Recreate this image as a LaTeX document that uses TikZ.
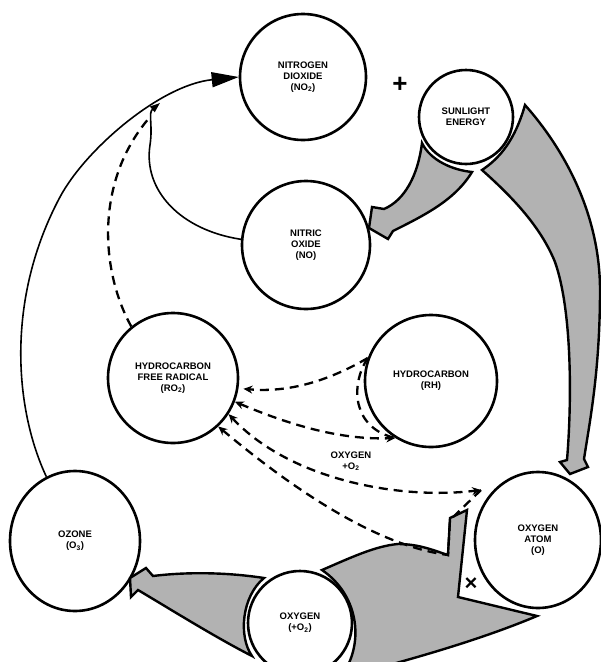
\documentclass[tikz,border=0pt]{standalone}
\usepackage{fontspec}
\setmainfont{Liberation Sans}
\usetikzlibrary{arrows.meta,shapes.geometric}
\newcommand{\labfont}{\fontsize{9.5}{11}\selectfont\bfseries}

\begin{document}
\begin{tikzpicture}[
  x=1pt, y=-1pt,
  species/.style={circle,draw,line width=2.6pt,align=center,font=\labfont,inner sep=0pt},
  ovalspecies/.style={species,ellipse},
  greyarrow/.style={draw,line width=2.4pt,fill=black!30},
  dashline/.style={line width=2.3pt,dash pattern=on 9pt off 6pt},
  route/.style={dashline,-{Stealth[length=9pt,width=8pt]}},
  thinarc/.style={line width=1.6pt}
]
  \useasboundingbox (0,0) rectangle (601,662);
  \clip (0,0) rectangle (601,662);

  \node[species,minimum size=126pt] (no2)   at (303,77)  {NITROGEN\\DIOXIDE\\(NO\textsubscript{2})};
  \node[species,minimum size=94pt]  (sun)   at (466,117) {SUNLIGHT\\ENERGY};
  \node[species,minimum size=128pt] (no)    at (306,245) {NITRIC\\OXIDE\\(NO)};
  \node[species,minimum size=130pt] (ro2)   at (173,378) {HYDROCARBON\\FREE RADICAL\\(RO\textsubscript{2})};
  \node[species,minimum size=132pt] (rh)    at (431,381) {HYDROCARBON\\(RH)};
  \node[ovalspecies,minimum width=126pt,minimum height=136pt] (oatom) at (538,540) {OXYGEN\\ATOM\\(O)};
  \node[ovalspecies,minimum width=130pt,minimum height=140pt] (ozone) at (75,541)  {OZONE\\(O\textsubscript{3})};
  \node[species,minimum size=104pt] (otwo)  at (300,623) {OXYGEN\\(+O\textsubscript{2})};

  \node[font=\fontsize{26}{26}\selectfont\bfseries] (plus) at (400,85) {+};
  \node[font=\fontsize{22}{22}\selectfont\bfseries] (cross) at (471,584) {×};
  \node[align=center,font=\labfont] (o2label) at (351,461) {OXYGEN\\+O\textsubscript{2}};

  \coordinate (join) at (160,103);
  \coordinate (dashend) at (150,117);
  \coordinate (ojoin) at (481,490);

  % solid cycle back to nitrogen dioxide
  \draw[thinarc,-{Triangle[length=27pt,width=15pt]}] (ozone.114) .. controls (15,410) and (5,300) .. (60,197)
    .. controls (85,150) and (160,85) .. (no2.180);
  \draw[thinarc,-{Triangle[length=10pt,width=7pt]}] (no.175) .. controls (180,230) and (143,190) .. (150,145)
    .. controls (153,125) and (148,113) .. (join);

  % sunlight arrows
  \draw[greyarrow] (422,143) .. controls (418,175) and (405,200) .. (384,209) -- (372,207) -- (369,228)
    -- (388,239) -- (393,231) .. controls (425,215) and (455,200) .. (472,172)
    .. controls (452,170) and (430,160) .. (422,143) -- cycle;
  \draw[greyarrow] (525,105) .. controls (565,150) and (600,215) .. (600,290)
    .. controls (600,370) and (590,420) .. (584,459) -- (588,467) -- (570,474) -- (560,462) -- (567,460)
    .. controls (572,400) and (572,310) .. (555,262) .. controls (540,225) and (510,195) .. (482,170)
    .. controls (500,158) and (515,140) .. (525,105) -- cycle;

  % oxygen arrows at the bottom
  \draw[greyarrow] (264,578) .. controls (225,572) and (185,572) .. (153,576) -- (146,568) -- (130,578)
    -- (131,597) -- (138,590) .. controls (175,612) and (215,637) .. (252,656)
    .. controls (238,636) and (242,596) .. (264,578) -- cycle;
  \draw[greyarrow] (322,570) .. controls (350,558) and (375,546) .. (398,544)
    .. controls (420,544) and (435,551) .. (448,555) -- (450,518) -- (467,510) -- (458,597) -- (537,616)
    .. controls (480,640) and (410,660) .. (340,678) .. controls (365,646) and (360,596) .. (322,570) -- cycle;

  % hydrocarbon reactions
  \draw[dashline] (ro2.129) .. controls (100,270) and (95,180) .. (dashend);
  \draw[route,shorten >=5pt] (rh.160) .. controls (330,380) and (290,393) .. (ro2.-9);
  \draw[dashline] (rh.160) .. controls (350,385) and (352,428) .. (rh.238);
  \draw[route,{Stealth[length=9pt,width=8pt]}-{Stealth[length=9pt,width=8pt]}] (ro2.-21) .. controls (290,425) and (340,440) .. (rh.238);
  \draw[route,{Stealth[length=9pt,width=8pt]}-{Stealth[length=9pt,width=8pt]}] (ro2.-33) .. controls (290,480) and (400,500) .. (ojoin);
  \draw[route] (ojoin) -- (450,520) -- (448,555) .. controls (380,546) and (300,495) .. (ro2.-47);
\end{tikzpicture}
\end{document}
